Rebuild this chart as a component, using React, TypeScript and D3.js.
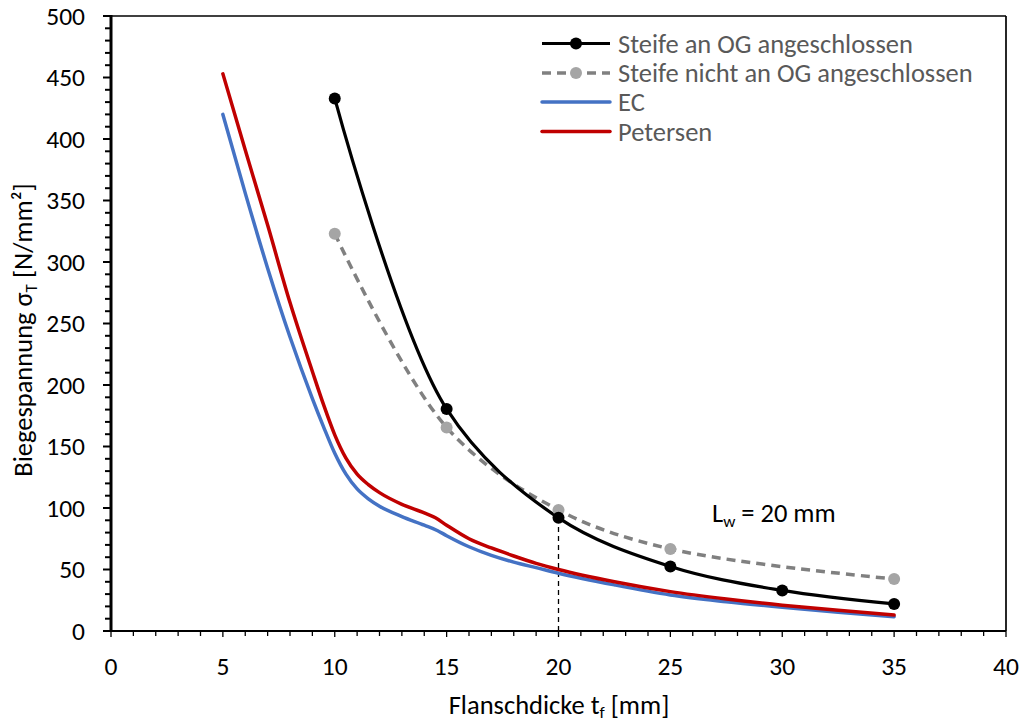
import React from "react";
import * as d3 from "d3";

const xTicks = [0, 5, 10, 15, 20, 25, 30, 35, 40];
const yTicks = [0, 50, 100, 150, 200, 250, 300, 350, 400, 450, 500];

const steifeAnX = [10, 15, 20, 25, 30, 35];
const steifeAnY = [433, 180.5, 92, 52.5, 33, 22];

const steifeNichtX = [10, 15, 20, 25, 35];
const steifeNichtY = [323, 165.5, 98.4, 66.7, 42.3];

const ecX = [5, 6, 7, 8, 9, 9.5, 10, 10.5, 11, 11.5, 12, 13, 14, 14.6, 15, 16, 17, 18, 19, 20, 22.5, 25, 27.5, 30, 32.5, 35];
const ecY = [420, 356, 295, 239, 189, 166, 144.5, 127.5, 115.5, 107.5, 101.5, 93, 86, 81.5, 77.5, 68.5, 61.5, 56, 51.5, 47, 37.5, 29.3, 23.8, 19.3, 15.3, 11.6];

const petX = [5, 6, 7, 8, 9, 9.5, 10, 10.5, 11, 11.5, 12, 13, 14, 14.5, 15, 16, 17, 18, 19, 20, 22.5, 25, 27.5, 30, 32.5, 35];
const petY = [453, 391, 330, 267, 211, 184, 159.5, 140.5, 127.5, 119, 112.5, 103, 96, 92, 86, 75, 67.5, 61, 55, 50, 40, 32, 26, 21, 16.8, 13];

const legendLabels = ["Steife an OG angeschlossen", "Steife nicht an OG angeschlossen", "EC", "Petersen"];

const FONT = "Carlito, Calibri, Lato, sans-serif";

export default function App() {
  const x = d3.scaleLinear().domain([0, 40]).range([111, 1006]);
  const y = d3.scaleLinear().domain([0, 500]).range([631, 16]);

  const toPts = (xs: number[], ys: number[]) => xs.map((v, i) => [v, ys[i]] as [number, number]);

  const smooth = d3
    .line<[number, number]>()
    .x((d) => x(d[0]))
    .y((d) => y(d[1]))
    .curve(d3.curveCatmullRom.alpha(0.5));
  const mono = d3
    .line<[number, number]>()
    .x((d) => x(d[0]))
    .y((d) => y(d[1]))
    .curve(d3.curveMonotoneX);

  const minorX = d3.range(0, 41, 1);
  const minorY = d3.range(0, 501, 10);

  const an = toPts(steifeAnX, steifeAnY);
  const ni = toPts(steifeNichtX, steifeNichtY);

  const legendY = [43.5, 73, 102, 131.5];

  return (
    <svg
      width={1027}
      height={724}
      style={{ position: "absolute", left: 0, top: 0, background: "#fff" }}
      fontFamily={FONT}
    >
      <rect x={0} y={0} width={1027} height={724} fill="#fff" />

      {/* minor ticks */}
      {minorY.map((v) => (
        <line key={"my" + v} x1={x(0) - (v % 50 === 0 ? 8 : 6)} x2={x(0)} y1={y(v)} y2={y(v)} stroke="#000" strokeWidth={2} />
      ))}
      {minorX.map((v) => (
        <line key={"mx" + v} x1={x(v)} x2={x(v)} y1={y(0)} y2={y(0) + (v % 5 === 0 ? 6 : 5)} stroke="#000" strokeWidth={1.3} />
      ))}

      {/* frame */}
      <line x1={x(0)} x2={x(40)} y1={y(500)} y2={y(500)} stroke="#000" strokeWidth={1.7} />
      <line x1={x(40)} x2={x(40)} y1={y(500)} y2={y(0)} stroke="#000" strokeWidth={1.7} />
      <line x1={x(0)} x2={x(40)} y1={y(0)} y2={y(0)} stroke="#000" strokeWidth={2.2} />
      <line x1={x(0)} x2={x(0)} y1={y(500) - 1} y2={y(0) + 1} stroke="#000" strokeWidth={3} />

      {/* tick labels */}
      {yTicks.map((v) => (
        <text key={"ty" + v} x={85} y={y(v)} dy="0.34em" textAnchor="end" fontSize={25.5} fill="#000">
          {v}
        </text>
      ))}
      {xTicks.map((v) => (
        <text key={"tx" + v} x={x(v)} y={675} textAnchor="middle" fontSize={25.5} fill="#000">
          {v}
        </text>
      ))}

      {/* axis titles */}
      <text x={559} y={714} textAnchor="middle" fontSize={26.5} fill="#000">
        Flanschdicke t<tspan fontSize={17} dy={4}>f</tspan>
        <tspan dy={-4}> [mm]</tspan>
      </text>
      <text transform="translate(32,330) rotate(-90)" textAnchor="middle" fontSize={26.5} fill="#000">
        Biegespannung σ<tspan fontSize={17} dy={5}>T</tspan>
        <tspan dy={-5}> [N/mm²]</tspan>
      </text>

      {/* dashed reference line */}
      <line x1={x(20)} x2={x(20)} y1={y(0)} y2={y(92)} stroke="#000" strokeWidth={1.3} strokeDasharray="5,4" />

      {/* curves */}
      <path d={mono(toPts(ecX, ecY)) || ""} fill="none" stroke="#4472C4" strokeWidth={3.5} strokeLinecap="round" />
      <path d={mono(toPts(petX, petY)) || ""} fill="none" stroke="#C00000" strokeWidth={3.5} strokeLinecap="round" />
      <path d={smooth(ni) || ""} fill="none" stroke="#808080" strokeWidth={3.5} strokeDasharray="9,6" />
      <path d={smooth(an) || ""} fill="none" stroke="#000" strokeWidth={3.2} />
      {ni.map((d, i) => (
        <circle key={"nc" + i} cx={x(d[0])} cy={y(d[1])} r={6} fill="#A5A5A5" />
      ))}
      {an.map((d, i) => (
        <circle key={"ac" + i} cx={x(d[0])} cy={y(d[1])} r={6} fill="#000" />
      ))}

      {/* annotation */}
      <text x={712} y={522} fontSize={26.5} fill="#000">
        L<tspan fontSize={17} dy={5}>w</tspan>
        <tspan dy={-5}> = 20 mm</tspan>
      </text>

      {/* legend */}
      {legendLabels.map((lab, i) => {
        const ly = legendY[i];
        return (
          <g key={"lg" + i}>
            {i === 0 && <line x1={542} x2={610} y1={ly} y2={ly} stroke="#000" strokeWidth={3.2} />}
            {i === 0 && <circle cx={576} cy={ly} r={6} fill="#000" />}
            {i === 1 && <line x1={542} x2={610} y1={ly} y2={ly} stroke="#808080" strokeWidth={3.5} strokeDasharray="9,6" />}
            {i === 1 && <circle cx={576} cy={ly} r={6} fill="#A5A5A5" />}
            {i === 2 && <line x1={542} x2={610} y1={ly} y2={ly} stroke="#4472C4" strokeWidth={3.5} strokeLinecap="round" />}
            {i === 3 && <line x1={542} x2={610} y1={ly} y2={ly} stroke="#C00000" strokeWidth={3.5} strokeLinecap="round" />}
            <text x={618} y={ly} dy="0.34em" fontSize={26.5} fill="#595959">
              {lab}
            </text>
          </g>
        );
      })}
    </svg>
  );
}
